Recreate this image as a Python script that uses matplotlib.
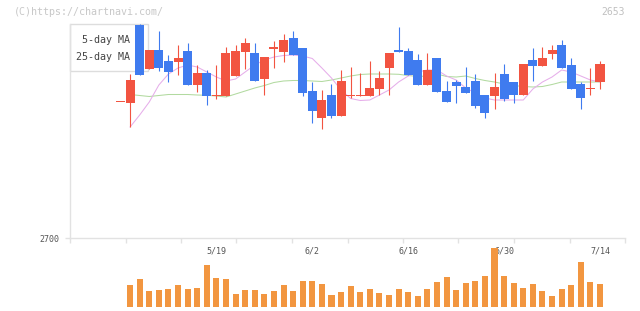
import matplotlib
matplotlib.use("Agg")
import matplotlib.pyplot as plt
from matplotlib.patches import Rectangle
import numpy as np

# ---------------- data ----------------
opens  = [2836, 2835, 2913, 2869, 2888, 2877, 2876, 2887, 2853, 2865,
          2842, 2842, 2862, 2886, 2885, 2859, 2889, 2886, 2900, 2890,
          2847, 2820, 2843, 2822, 2842, 2842, 2842, 2849, 2870, 2888,
          2887, 2878, 2853, 2880, 2847, 2856, 2851, 2857, 2843, 2842,
          2864, 2856, 2843, 2878, 2872, 2884, 2893, 2873, 2854, 2849, 2856]
highs  = [2836, 2864, 2914, 2888, 2907, 2883, 2893, 2895, 2873, 2868,
          2873, 2891, 2893, 2900, 2895, 2881, 2897, 2904, 2907, 2890,
          2856, 2848, 2854, 2868, 2871, 2865, 2877, 2867, 2885, 2911,
          2890, 2884, 2885, 2880, 2857, 2858, 2871, 2864, 2843, 2865,
          2874, 2856, 2874, 2890, 2891, 2893, 2898, 2880, 2856, 2870, 2877]
lows   = [2836, 2811, 2863, 2869, 2867, 2856, 2863, 2853, 2846, 2833,
          2839, 2842, 2862, 2869, 2857, 2843, 2870, 2876, 2883, 2842,
          2815, 2809, 2820, 2822, 2840, 2842, 2842, 2843, 2843, 2886,
          2863, 2853, 2853, 2846, 2836, 2835, 2845, 2830, 2820, 2829,
          2837, 2835, 2843, 2857, 2872, 2879, 2870, 2849, 2829, 2843, 2849]
closes = [2836, 2858, 2863, 2888, 2870, 2866, 2880, 2853, 2865, 2842,
          2843, 2885, 2887, 2895, 2857, 2881, 2891, 2898, 2883, 2845,
          2827, 2838, 2822, 2857, 2843, 2843, 2850, 2860, 2885, 2886,
          2863, 2853, 2868, 2846, 2836, 2852, 2845, 2832, 2825, 2851,
          2839, 2843, 2874, 2872, 2880, 2888, 2870, 2849, 2840, 2850, 2874]
volumes = [0, 22, 28, 16, 17, 18, 22, 18, 19, 42,
           29, 28, 13, 17, 17, 13, 16, 22, 16, 26,
           26, 23, 12, 15, 21, 15, 18, 14, 12, 18,
           15, 11, 18, 25, 30, 17, 24, 26, 31, 59,
           31, 24, 19, 23, 16, 11, 18, 22, 45, 25, 23]
ma5 = [np.nan, 2811, 2823, 2836, 2853, 2864, 2870, 2873, 2871, 2866,
       2861, 2857, 2859, 2866, 2873, 2878, 2881, 2882.5, 2883, 2882,
       2879.5, 2870, 2860, 2848, 2839.5, 2837.5, 2838, 2843, 2848, 2856,
       2862, 2866, 2868, 2868, 2862, 2858, 2850, 2845, 2840, 2838,
       2838, 2838, 2838, 2849, 2856, 2861, 2868, 2866, 2862, 2858, 2856]
ma25 = [np.nan, 2843.5, 2842.5, 2841.5, 2842.5, 2843.5, 2843.5, 2843.5, 2843, 2842.7,
        2842, 2841, 2844, 2847, 2850, 2852.5, 2855.5, 2857, 2857.5, 2857.5,
        2857, 2856.5, 2858, 2860, 2862, 2863.5, 2864, 2864, 2864, 2863.7,
        2862.5, 2861.5, 2862, 2864, 2861.5, 2861, 2862, 2859.5, 2857.5, 2856,
        2854, 2852.5, 2851.5, 2851, 2851.5, 2853.5, 2856, 2856, 2856, 2856, 2856]
date_labels = ["5/19", "6/2", "6/16", "6/30", "7/14"]
date_index = [10, 20, 30, 40, 50]
ytick_vals = [2700]

# ---------------- style ----------------
W, H = 640, 311
UP, DOWN = "#f25441", "#3f7bef"
VOL = "#f29640"
MA5C, MA25C = "#e6aeea", "#b2daa0"
AXC = "#e2e2e2"
mono = "DejaVu Sans Mono"

fig = plt.figure(figsize=(W / 100, H / 100), dpi=100)
fig.patch.set_facecolor("white")

step = 9.59
x0px = 120.5
def idx(px):
    return (px - x0px) / step
xlim = (idx(70), idx(625))

ax = fig.add_axes([70 / W, (H - 238) / H, 555 / W, 218 / H])
ax.set_xlim(*xlim)
ax.set_ylim(2700, 2918)
ax.set_facecolor("none")
for s in ("top", "right"):
    ax.spines[s].set_visible(False)
ax.spines["left"].set_color(AXC)
ax.spines["bottom"].set_color(AXC)
ax.spines["left"].set_linewidth(1.0)
ax.spines["bottom"].set_linewidth(1.0)
ax.spines["left"].set_bounds(2700, 2914)

ax.set_xticks(np.linspace(xlim[0], xlim[1], 11))
ax.set_xticklabels([])
ax.set_xticks(date_index, minor=True)
ax.set_xticklabels(date_labels, minor=True, fontsize=6, family=mono, color="#555555")
ax.tick_params(axis="x", which="major", length=5 * 0.72, width=1.0, color=AXC, direction="out")
ax.tick_params(axis="x", which="minor", length=0, pad=6)
ax.set_yticks(ytick_vals)
ax.set_yticklabels([str(v) for v in ytick_vals], fontsize=6, family=mono, color="#555555")
ax.tick_params(axis="y", length=5 * 0.72, width=1.0, color=AXC, pad=4.3, direction="out")

x = np.arange(len(opens))
o = np.array(opens, float)
c = np.array(closes, float)
hi = np.array(highs, float)
lo = np.array(lows, float)
colors = [UP if cc >= oo else DOWN for oo, cc in zip(o, c)]

# legend box (behind candles)
ax.add_patch(Rectangle((70 / W, 1 - 71 / H), 78 / W, 47 / H, transform=fig.transFigure,
                       facecolor="white", edgecolor="#dddddd", linewidth=1.0, zorder=1,
                       clip_on=False))
fig.text(129.5 / W, 1 - 40 / H, "5-day MA", ha="right", va="center", fontsize=7.2,
         family=mono, color="#444444", zorder=1.5)
fig.text(129.5 / W, 1 - 57 / H, "25-day MA", ha="right", va="center", fontsize=7.2,
         family=mono, color="#444444", zorder=1.5)

ax.plot(x, ma25, color=MA25C, lw=0.75, zorder=2)
ax.plot(x, ma5, color=MA5C, lw=0.75, zorder=2)

ax.vlines(x, lo, hi, colors=colors, linewidth=0.8, zorder=3)
body = np.maximum(np.abs(c - o), 1.0)
ax.bar(x, body, bottom=np.minimum(o, c), width=0.94, color=colors, linewidth=0, zorder=4)

# volume
vax = fig.add_axes([70 / W, (H - 307) / H, 555 / W, 62 / H])
vax.set_xlim(*xlim)
vax.set_ylim(0, 62)
vax.axis("off")
vax.patch.set_alpha(0)
vax.bar(x, volumes, width=0.63, color=VOL, linewidth=0)

fig.text(14 / W, 1 - 12 / H, "(C)https://chartnavi.com/", ha="left", va="center",
         fontsize=7.2, family=mono, color="#c8c8c8")
fig.text(625 / W, 1 - 12 / H, "2653", ha="right", va="center",
         fontsize=7.0, family=mono, color="#c0c0c0")

fig.savefig("out.png", dpi=100)
